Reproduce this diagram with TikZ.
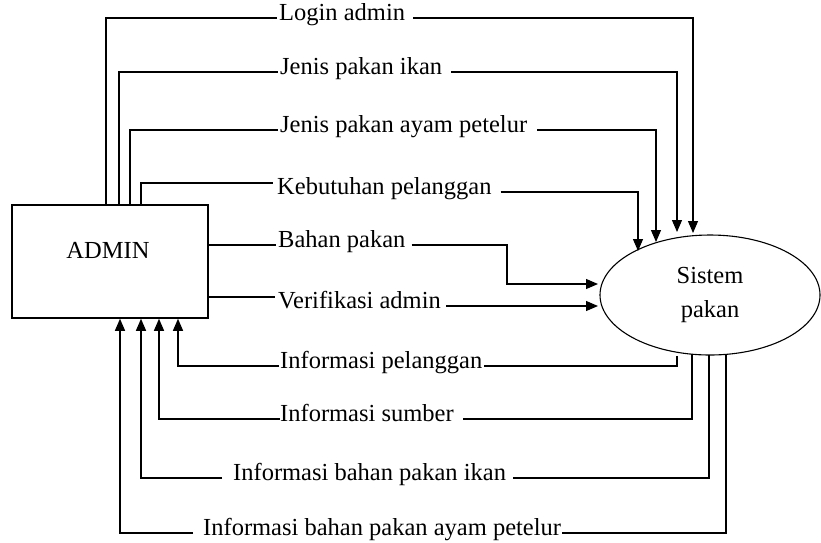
\documentclass[tikz,border=0pt]{standalone}
\usepackage{fontspec}
\setmainfont{Liberation Serif}
\usetikzlibrary{arrows.meta,shapes.geometric}
\begin{document}
\begin{tikzpicture}[x=1pt,y=-1pt,
  every node/.style={font=\fontsize{24.5}{34}\selectfont},
  flow/.style={line width=1.2pt},
  tip/.style={flow,-{Triangle[length=12pt,width=10pt]}},
  lbl/.style={anchor=mid west,inner sep=0pt},
  entity/.style={draw,line width=1.5pt,minimum width=196pt,minimum height=113pt,inner sep=0pt},
  process/.style={draw,ellipse,line width=1.1pt,minimum width=220pt,minimum height=120pt,
    inner sep=0pt,align=center}]
\useasboundingbox (0,0) rectangle (821,542);

% external entity and process
\node[entity] (admin) at (110,261.5) {};
\node (admintxt) at (108,250) {ADMIN};
\node[process] (sys) at (710,295) {Sistem\\pakan};

% flow labels
\node[lbl] (l1) at (279,18) {Login admin};
\node[lbl] (l2) at (280,72) {Jenis pakan ikan};
\node[lbl] (l3) at (280,130) {Jenis pakan ayam petelur};
\node[lbl] (l4) at (277,192) {Kebutuhan pelanggan};
\node[lbl] (l5) at (278,245) {Bahan pakan};
\node[lbl] (l6) at (278,306) {Verifikasi admin};
\node[lbl] (l7) at (280,366) {Informasi pelanggan};
\node[lbl] (l8) at (280,419) {Informasi sumber};
\node[lbl] (l9) at (233,478) {Informasi bahan pakan ikan};
\node[lbl] (l10) at (203,533) {Informasi bahan pakan ayam petelur};

% arrow ends on the process outline
\coordinate (t1) at (693,233);
\coordinate (t2) at (677,232);
\coordinate (t3) at (656,242);
\coordinate (t4) at (638,251);
\coordinate (k5) at (507,284);
\coordinate (t5) at (598,284);
\coordinate (t6) at (598,306);
\coordinate (s7) at (677,356);
\coordinate (s8) at (692,354);
\coordinate (s9) at (709,355);
\coordinate (s10) at (726,354.5);

% flows from ADMIN into the system
\draw[flow] ([xshift=-4pt]admin.north) |- ([xshift=-2pt]l1.mid west);
\draw[tip] ([xshift=8pt]l1.mid east) -| (t1);

\draw[flow] ([xshift=9pt]admin.north) |- ([xshift=-2pt]l2.mid west);
\draw[tip] ([xshift=9pt]l2.mid east) -| (t2);

\draw[flow] ([xshift=20pt]admin.north) |- ([xshift=-2pt]l3.mid west);
\draw[tip] ([xshift=10pt]l3.mid east) -| (t3);

\draw[flow] ([xshift=31pt]admin.north) |- ([xshift=-4pt,yshift=9pt]l4.mid west);
\draw[tip] ([xshift=9pt]l4.mid east) -| (t4);

\draw[flow] (admin.east |- l5.mid west) -- ([xshift=-2pt]l5.mid west);
\draw[tip] ([xshift=6pt]l5.mid east) -| (k5) -- (t5);

\coordinate (v6) at ([xshift=-3pt,yshift=9pt]l6.mid west);
\draw[flow] (admin.east |- v6) -- (v6);
\draw[tip] ([xshift=5pt]l6.mid east) -- (t6);

% flows from the system back to ADMIN
\draw[flow] (s7) |- ([xshift=2pt]l7.mid east);
\draw[tip] ([xshift=-1pt]l7.mid west) -| ([xshift=68pt]admin.south);

\draw[flow] (s8) |- ([xshift=9pt]l8.mid east);
\draw[tip] (l8.mid west) -| ([xshift=49pt]admin.south);

\draw[flow] (s9) |- ([xshift=7pt]l9.mid east);
\draw[tip] ([xshift=-11pt]l9.mid west) -| ([xshift=31pt]admin.south);

\draw[flow] (s10) |- ([xshift=1pt]l10.mid east);
\draw[tip] ([xshift=-10pt]l10.mid west) -| ([xshift=10pt]admin.south);
\end{tikzpicture}
\end{document}
